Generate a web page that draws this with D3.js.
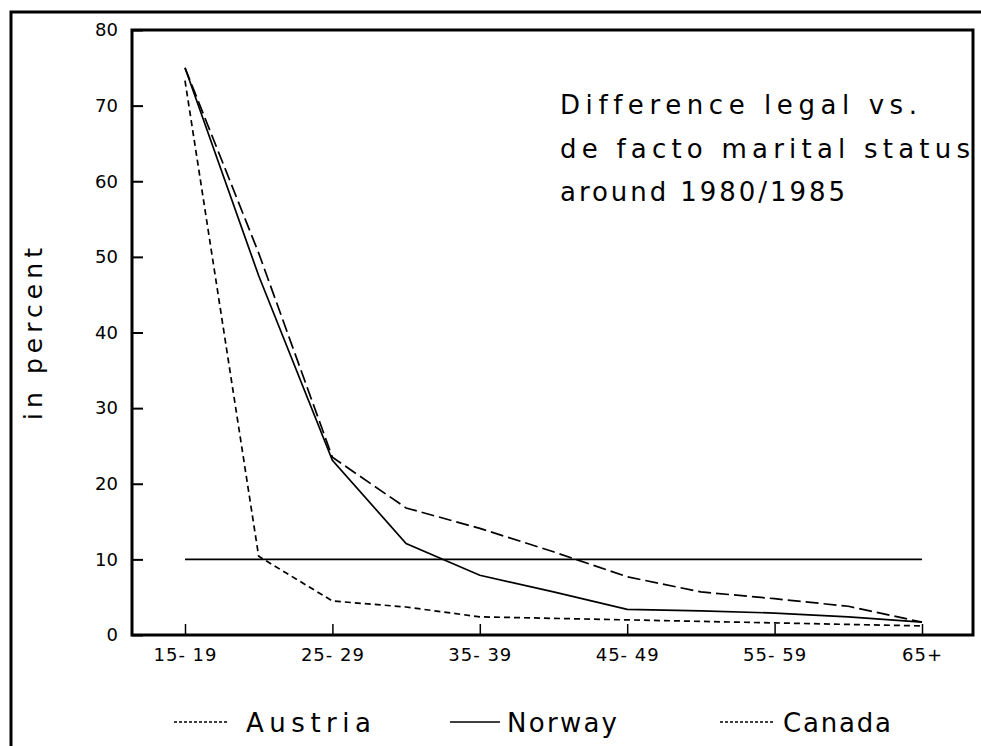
<!DOCTYPE html>
<html>
<head>
<meta charset="utf-8">
<script src="https://cdn.jsdelivr.net/npm/d3@7"></script>
<style>
  body { margin: 0; background: #fff; }
  text { font-family: "DejaVu Sans", sans-serif; fill: #000; font-variant-ligatures: none; }
</style>
</head>
<body>
<script>
// age groups on the x axis, only every other one is labelled
const ageGroups = ["15-19", "20-24", "25-29", "30-34", "35-39", "40-44", "45-49", "50-54", "55-59", "60-64", "65+"];
const labelledGroups = ["15-19", "25-29", "35-39", "45-49", "55-59", "65+"];
const tickLabels = ["15- 19", "25- 29", "35- 39", "45- 49", "55- 59", "65+"];
const yTicks = [0, 10, 20, 30, 40, 50, 60, 70, 80];

// difference legal vs. de facto marital status, in percent
const austria = [73.3, 10.4, 4.5, 3.7, 2.4, 2.2, 2.0, 1.8, 1.6, 1.4, 1.2];
const norway = [75.0, 47.5, 23.1, 12.1, 7.9, 5.7, 3.4, 3.2, 2.9, 2.4, 1.7];
const canada = [75.0, 50.5, 23.5, 16.8, 14.1, 11.0, 7.7, 5.7, 4.8, 3.8, 1.7];
const referenceLevel = 10;

const seriesNames = ["Austria", "Norway", "Canada"];
const titleLines = ["Difference legal vs.", "de facto marital status", "around 1980/1985"];

const width = 981, height = 746;
const plot = { left: 132, top: 30, right: 973, bottom: 635 };

const svg = d3.select("body").append("svg")
    .attr("width", width)
    .attr("height", height);

const x = d3.scalePoint().domain(ageGroups).range([185, 922]);
const y = d3.scaleLinear().domain([0, 80]).range([plot.bottom, plot.top]);

// outer frame (only top and left edges are inside the picture)
svg.append("path")
    .attr("d", `M11,${height} L11,12 L${width},12`)
    .attr("fill", "none")
    .attr("stroke", "#000")
    .attr("stroke-width", 3);

svg.append("clipPath").attr("id", "plotclip")
    .append("rect")
    .attr("x", plot.left).attr("y", plot.top)
    .attr("width", plot.right - plot.left)
    .attr("height", plot.bottom - plot.top);

// y axis ticks point inward
const yAxis = svg.append("g")
    .attr("transform", `translate(${plot.left},0)`)
    .call(d3.axisRight(y).tickValues(yTicks).tickSize(11).tickFormat(d3.format("d")));
yAxis.select(".domain").remove();
yAxis.selectAll("line").attr("stroke-width", 2);
yAxis.selectAll("text")
    .attr("x", -14)
    .attr("text-anchor", "end")
    .style("font-size", "18px");

// x axis ticks point up
const xAxis = svg.append("g")
    .attr("transform", `translate(0,${plot.bottom})`)
    .call(d3.axisTop(x).tickValues(labelledGroups).tickSize(11)
        .tickFormat((d, i) => tickLabels[i]));
xAxis.select(".domain").remove();
xAxis.selectAll("line").attr("stroke-width", 1.5);
xAxis.selectAll("text")
    .attr("y", 26)
    .attr("dy", 0)
    .style("font-size", "18px")
    .style("letter-spacing", "1px");

// plot frame
svg.append("rect")
    .attr("x", plot.left).attr("y", plot.top)
    .attr("width", plot.right - plot.left)
    .attr("height", plot.bottom - plot.top)
    .attr("fill", "none")
    .attr("stroke", "#000")
    .attr("stroke-width", 3);

const g = svg.append("g").attr("clip-path", "url(#plotclip)");

// 10 percent reference line
g.append("line")
    .attr("x1", x(ageGroups[0])).attr("x2", x(ageGroups[ageGroups.length - 1]))
    .attr("y1", y(referenceLevel)).attr("y2", y(referenceLevel))
    .attr("stroke", "#000")
    .attr("stroke-width", 1.6);

const series = [
    { name: seriesNames[0], values: austria, dash: "6,4" },
    { name: seriesNames[1], values: norway, dash: null },
    { name: seriesNames[2], values: canada, dash: "13,5" }
];

const line = d3.line()
    .x((d, i) => x(ageGroups[i]))
    .y(d => y(d));

series.forEach(s => {
    g.append("path")
        .datum(s.values)
        .attr("d", line)
        .attr("fill", "none")
        .attr("stroke", "#000")
        .attr("stroke-width", 1.7)
        .attr("stroke-dasharray", s.dash);
});

// title inside the plot, clipped at the frame
const titleLens = [357, 410, 285];
g.selectAll("text.title")
    .data(titleLines)
    .join("text")
    .attr("class", "title")
    .attr("x", 560)
    .attr("y", (d, i) => 114 + i * 43.5)
    .attr("textLength", (d, i) => titleLens[i])
    .attr("lengthAdjust", "spacing")
    .style("font-size", "26px")
    .text(d => d);

// y axis title
svg.append("text")
    .attr("transform", "translate(42,334) rotate(-90)")
    .attr("text-anchor", "middle")
    .attr("textLength", 172)
    .attr("lengthAdjust", "spacing")
    .style("font-size", "25px")
    .text("in percent");

// legend
const legendPos = [
    { x1: 174, x2: 229, tx: 246, len: 125 },
    { x1: 450, x2: 500, tx: 507, len: 110 },
    { x1: 720, x2: 774, tx: 783, len: 108 }
];
const legend = svg.append("g");
series.forEach((s, i) => {
    const p = legendPos[i];
    legend.append("line")
        .attr("x1", p.x1).attr("x2", p.x2)
        .attr("y1", 722).attr("y2", 722)
        .attr("stroke", "#000")
        .attr("stroke-width", 1.3)
        .attr("stroke-dasharray", s.dash ? "3,2" : null);
    legend.append("text")
        .attr("x", p.tx)
        .attr("y", 732)
        .attr("textLength", p.len)
        .attr("lengthAdjust", "spacing")
        .style("font-size", "26px")
        .text(s.name);
});
</script>
</body>
</html>
